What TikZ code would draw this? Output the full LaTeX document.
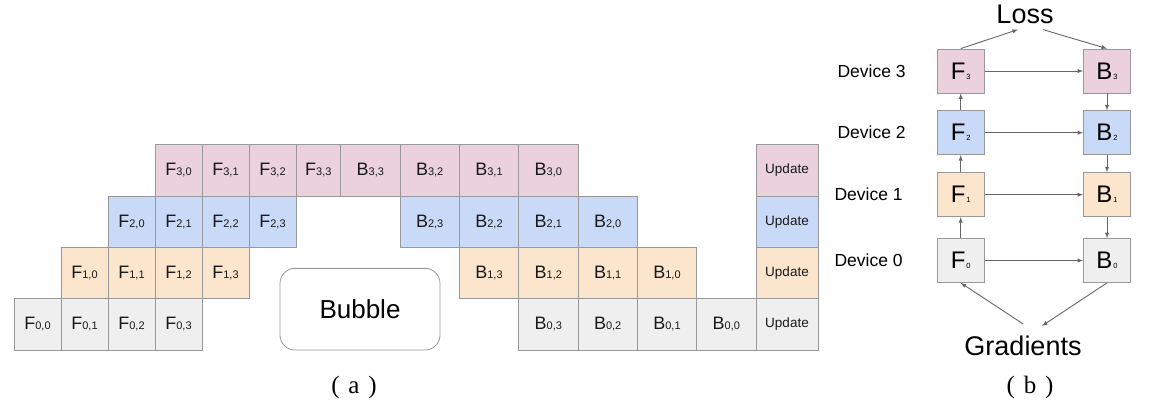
\documentclass[tikz,border=0pt]{standalone}
\usepackage{fontspec}
\setmainfont{Liberation Sans}
\newfontfamily\capfont{Liberation Serif}
\usepackage{xcolor}
\usepackage{tikz}
\usetikzlibrary{shapes,arrows,positioning}

\definecolor{devthree}{HTML}{EAD1DC}
\definecolor{devtwo}{HTML}{C9DAF8}
\definecolor{devone}{HTML}{FCE5CD}
\definecolor{devzero}{HTML}{EFEFEF}
\definecolor{edgegray}{HTML}{999999}
\definecolor{arrowgray}{HTML}{666666}

\newcommand{\fbsub}[2]{#1{\fontsize{11}{11}\selectfont #2}}
\newcommand{\devsub}[2]{#1\kern1pt{\fontsize{7.5}{7.5}\selectfont #2}}

\begin{document}
\begin{tikzpicture}[
        x=1pt, y=-1pt,
        cell/.style={rectangle, draw=edgegray, line width=0.8pt, minimum width=47pt, minimum height=51.4pt, inner sep=0pt, text=black!90, font=\fontsize{18}{18}\selectfont},
        bcell/.style={cell, minimum width=59.3pt},
        upcell/.style={cell, minimum width=62pt, font=\fontsize{13.5}{13.5}\selectfont},
        bubble/.style={rectangle, rounded corners=15pt, draw=edgegray, line width=0.8pt, minimum width=160pt, minimum height=81.7pt, font=\fontsize{26}{26}\selectfont},
        devbox/.style={rectangle, draw=edgegray, line width=0.8pt, minimum width=47pt, minimum height=44pt, inner sep=0pt, font=\fontsize{24}{24}\selectfont},
        devlabel/.style={font=\fontsize{17.5}{17.5}\selectfont, inner sep=0pt},
        bigtext/.style={font=\fontsize{27}{27}\selectfont, inner sep=2pt},
        caption/.style={font=\capfont\fontsize{25}{25}\selectfont, inner sep=0pt},
        arrow/.style={->, >=latex, draw=arrowgray, line width=0.9pt}
    ]
        \useasboundingbox (0,0) rectangle (1157,409);

        % (a) Device 3
        \node[cell, fill=devthree] (f30) at (178.5,170.2) {\fbsub{F}{3,0}};
        \node[cell, fill=devthree] (f31) at (225.5,170.2) {\fbsub{F}{3,1}};
        \node[cell, fill=devthree] (f32) at (272.5,170.2) {\fbsub{F}{3,2}};
        \node[cell, fill=devthree, minimum width=44.7pt] (f33) at (318.3,170.2) {\fbsub{F}{3,3}};
        \node[bcell, fill=devthree] (b33) at (370.3,170.2) {\fbsub{B}{3,3}};
        \node[bcell, fill=devthree] (b32) at (429.7,170.2) {\fbsub{B}{3,2}};
        \node[bcell, fill=devthree] (b31) at (489.0,170.2) {\fbsub{B}{3,1}};
        \node[bcell, fill=devthree] (b30) at (548.3,170.2) {\fbsub{B}{3,0}};
        \node[upcell, fill=devthree] (up3) at (787,170.2) {Update};

        % (a) Device 2
        \node[cell, fill=devtwo] (f20) at (131.5,221.6) {\fbsub{F}{2,0}};
        \node[cell, fill=devtwo] (f21) at (178.5,221.6) {\fbsub{F}{2,1}};
        \node[cell, fill=devtwo] (f22) at (225.5,221.6) {\fbsub{F}{2,2}};
        \node[cell, fill=devtwo] (f23) at (272.5,221.6) {\fbsub{F}{2,3}};
        \node[bcell, fill=devtwo] (b23) at (429.7,221.6) {\fbsub{B}{2,3}};
        \node[bcell, fill=devtwo] (b22) at (489.0,221.6) {\fbsub{B}{2,2}};
        \node[bcell, fill=devtwo] (b21) at (548.3,221.6) {\fbsub{B}{2,1}};
        \node[bcell, fill=devtwo] (b20) at (607.7,221.6) {\fbsub{B}{2,0}};
        \node[upcell, fill=devtwo] (up2) at (787,221.6) {Update};

        % (a) Device 1
        \node[cell, fill=devone] (f10) at (84.5,273.0) {\fbsub{F}{1,0}};
        \node[cell, fill=devone] (f11) at (131.5,273.0) {\fbsub{F}{1,1}};
        \node[cell, fill=devone] (f12) at (178.5,273.0) {\fbsub{F}{1,2}};
        \node[cell, fill=devone] (f13) at (225.5,273.0) {\fbsub{F}{1,3}};
        \node[bcell, fill=devone] (b13) at (489.0,273.0) {\fbsub{B}{1,3}};
        \node[bcell, fill=devone] (b12) at (548.3,273.0) {\fbsub{B}{1,2}};
        \node[bcell, fill=devone] (b11) at (607.7,273.0) {\fbsub{B}{1,1}};
        \node[bcell, fill=devone] (b10) at (667.0,273.0) {\fbsub{B}{1,0}};
        \node[upcell, fill=devone] (up1) at (787,273.0) {Update};

        % (a) Device 0
        \node[cell, fill=devzero] (f00) at (37.5,324.3) {\fbsub{F}{0,0}};
        \node[cell, fill=devzero] (f01) at (84.5,324.3) {\fbsub{F}{0,1}};
        \node[cell, fill=devzero] (f02) at (131.5,324.3) {\fbsub{F}{0,2}};
        \node[cell, fill=devzero] (f03) at (178.5,324.3) {\fbsub{F}{0,3}};
        \node[bcell, fill=devzero] (b03) at (548.3,324.3) {\fbsub{B}{0,3}};
        \node[bcell, fill=devzero] (b02) at (607.7,324.3) {\fbsub{B}{0,2}};
        \node[bcell, fill=devzero] (b01) at (667.0,324.3) {\fbsub{B}{0,1}};
        \node[bcell, fill=devzero] (b00) at (726.3,324.3) {\fbsub{B}{0,0}};
        \node[upcell, fill=devzero] (up0) at (787,324.3) {Update};

        % Idle time
        \node[bubble] (bubble) at (360,309.2) {Bubble};

        \node[caption] (capa) at (354,387) {(\hspace{0.35em}a\hspace{0.35em})};

        % (b) Forward and backward per device
        \node[devbox, fill=devthree] (f3) at (960.7,71) {\devsub{F}{3}};
        \node[devbox, fill=devtwo] (f2) at (960.7,132.7) {\devsub{F}{2}};
        \node[devbox, fill=devone] (f1) at (960.7,194.7) {\devsub{F}{1}};
        \node[devbox, fill=devzero] (f0) at (960.7,260.5) {\devsub{F}{0}};
        \node[devbox, fill=devthree] (b3) at (1107,71) {\devsub{B}{3}};
        \node[devbox, fill=devtwo] (b2) at (1107,132.7) {\devsub{B}{2}};
        \node[devbox, fill=devone] (b1) at (1107,194.7) {\devsub{B}{1}};
        \node[devbox, fill=devzero] (b0) at (1107,260.5) {\devsub{B}{0}};

        % Device labels
        \node[devlabel, left=31pt of f3] (dev3) {Device 3};
        \node[devlabel, left=31pt of f2] (dev2) {Device 2};
        \node[devlabel, left=34pt of f1] (dev1) {Device 1};
        \node[devlabel, left=34pt of f0] (dev0) {Device 0};

        \node[bigtext] (loss) at (1025,14) {Loss};
        \node[bigtext] (grad) at (1023,346) {Gradients};

        % Connections
        \draw[arrow] (f3.north) -- ([xshift=-7pt,yshift=-4pt]loss.south);
        \draw[arrow] ([xshift=18pt,yshift=-4pt]loss.south) -- (b3.north);
        \draw[arrow] (f0) -- (f1);
        \draw[arrow] (f1) -- (f2);
        \draw[arrow] (f2) -- (f3);
        \draw[arrow] (f3) -- (b3);
        \draw[arrow] (f2) -- (b2);
        \draw[arrow] (f1) -- (b1);
        \draw[arrow] (f0) -- (b0);
        \draw[arrow] (b3) -- (b2);
        \draw[arrow] (b2) -- (b1);
        \draw[arrow] (b1) -- (b0);
        \draw[arrow] ([yshift=10pt]grad.north) -- (f0.south);
        \draw[arrow] (b0.south) -- ([xshift=19pt,yshift=8pt]grad.north);

        \node[caption] (capb) at (1030,387) {(\hspace{0.35em}b\hspace{0.35em})};
    \end{tikzpicture}
\end{document}
